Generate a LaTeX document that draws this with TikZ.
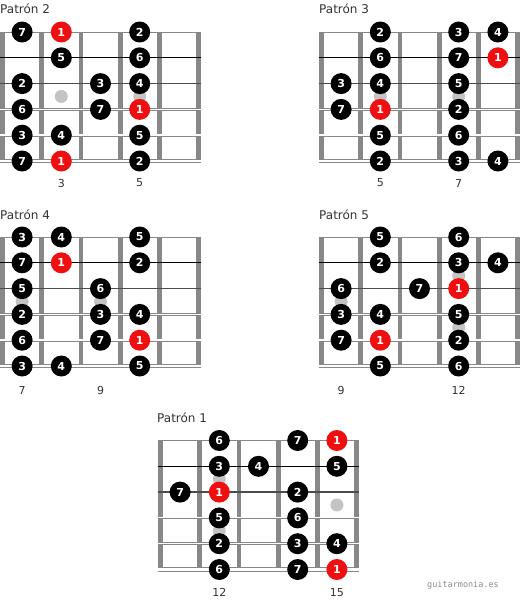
\documentclass[tikz,border=0pt]{standalone}
\usepackage{fontspec}
\setmainfont{DejaVu Sans}
\newfontfamily\wmfont{DejaVu Sans Mono}
\definecolor{nred}{RGB}{238,16,16}
\definecolor{fretc}{RGB}{136,136,136}
\definecolor{inlayc}{RGB}{196,196,196}
\definecolor{txtc}{RGB}{51,51,51}
\tikzset{
  x=1pt, y=-1pt,
  note/.style={circle, minimum size=21pt, inner sep=0pt, text=white,
    font=\fontsize{11}{11}\selectfont\bfseries},
  ttl/.style={anchor=west, inner sep=0pt, text=txtc, font=\fontsize{12}{14}\selectfont},
  fnum/.style={inner sep=0pt, text=txtc, font=\fontsize{11}{13}\selectfont},
  wmark/.style={inner sep=0pt, text=black!45, font=\wmfont\fontsize{8.5}{10}\selectfont},
}
% fretboard drawn inside a shifted scope
\newcommand\fboard{%
  \foreach \k in {0,...,5}
    \fill[fretc] ({\k*39.2-2.4},-0.5) rectangle ({\k*39.2+2.4},131);
  \draw[fretc, line width=1pt] (-2.5,0) -- (198.5,0);
  \draw[black, line width=0.8pt] (-2.5,25.8) -- (198.5,25.8);
  \draw[black!70, line width=1.3pt] (-2.5,51.6) -- (198.5,51.6);
  \draw[fretc, line width=2.6pt] (-2.5,77.4) -- (198.5,77.4);
  \draw[white, line width=1.1pt] (-2.5,77.4) -- (198.5,77.4);
  \draw[fretc, line width=3.2pt] (-2.5,103.2) -- (198.5,103.2);
  \draw[white, line width=1.5pt] (-2.5,103.2) -- (198.5,103.2);
  \draw[fretc, line width=4.2pt] (-2.5,129) -- (198.5,129);
  \draw[white, line width=2.2pt] (-2.5,129) -- (198.5,129);
}
\newcommand\inlay[1]{\fill[inlayc] ({#1*39.2+19.6},64.5) circle (6.5pt);}
\newcommand\dinlay[1]{\fill[inlayc] ({#1*39.2+19.6},38.7) circle (6.5pt);
  \fill[inlayc] ({#1*39.2+19.6},90.3) circle (6.5pt);}
\newcommand\notes[2]{%
  \foreach \r/\c/\l/\f in {#2}
    \node[note, fill=\f] (#1-\r-\c) at ({\c*39.2+19.6},{\r*25.8}) {\l};}
\begin{document}
\begin{tikzpicture}
\useasboundingbox (0,0) rectangle (520,600);
\fill[white] (0,0) rectangle (520,600);

% Patron 2
\begin{scope}[shift={(2.5,32)}]
  \node[ttl] (p2-title) at (-2.5,-23) {Patrón 2};
  \fboard \inlay{1} \inlay{3}
  \notes{p2}{0/0/7/black, 0/1/1/nred, 0/3/2/black,
    1/1/5/black, 1/3/6/black,
    2/0/2/black, 2/2/3/black, 2/3/4/black,
    3/0/6/black, 3/2/7/black, 3/3/1/nred,
    4/0/3/black, 4/1/4/black, 4/3/5/black,
    5/0/7/black, 5/1/1/nred, 5/3/2/black}
  \node[fnum] (p2-fa) at (58.8,151) {3};
  \node[fnum] (p2-fb) at (137.2,151) {5};
\end{scope}

% Patron 3
\begin{scope}[shift={(321.5,32)}]
  \node[ttl] (p3-title) at (-2.5,-23) {Patrón 3};
  \fboard \inlay{1} \inlay{3}
  \notes{p3}{0/1/2/black, 0/3/3/black, 0/4/4/black,
    1/1/6/black, 1/3/7/black, 1/4/1/nred,
    2/0/3/black, 2/1/4/black, 2/3/5/black,
    3/0/7/black, 3/1/1/nred, 3/3/2/black,
    4/1/5/black, 4/3/6/black,
    5/1/2/black, 5/3/3/black, 5/4/4/black}
  \node[fnum] (p3-fa) at (58.8,151) {5};
  \node[fnum] (p3-fb) at (137.2,151) {7};
\end{scope}

% Patron 4
\begin{scope}[shift={(2.5,237)}]
  \node[ttl] (p4-title) at (-2.5,-22) {Patrón 4};
  \fboard \inlay{0} \inlay{2}
  \notes{p4}{0/0/3/black, 0/1/4/black, 0/3/5/black,
    1/0/7/black, 1/1/1/nred, 1/3/2/black,
    2/0/5/black, 2/2/6/black,
    3/0/2/black, 3/2/3/black, 3/3/4/black,
    4/0/6/black, 4/2/7/black, 4/3/1/nred,
    5/0/3/black, 5/1/4/black, 5/3/5/black}
  \node[fnum] (p4-fa) at (19.6,153) {7};
  \node[fnum] (p4-fb) at (98,153) {9};
\end{scope}

% Patron 5
\begin{scope}[shift={(321.5,237)}]
  \node[ttl] (p5-title) at (-2.5,-22) {Patrón 5};
  \fboard \inlay{0} \dinlay{3}
  \notes{p5}{0/1/5/black, 0/3/6/black,
    1/1/2/black, 1/3/3/black, 1/4/4/black,
    2/0/6/black, 2/2/7/black, 2/3/1/nred,
    3/0/3/black, 3/1/4/black, 3/3/5/black,
    4/0/7/black, 4/1/1/nred, 4/3/2/black,
    5/1/5/black, 5/3/6/black}
  \node[fnum] (p5-fa) at (19.6,153) {9};
  \node[fnum] (p5-fb) at (137.2,153) {12};
\end{scope}

% Patron 1
\begin{scope}[shift={(160.5,440.5)}]
  \node[ttl] (p1-title) at (-3.5,-22.5) {Patrón 1};
  \fboard \dinlay{1} \inlay{4}
  \notes{p1}{0/1/6/black, 0/3/7/black, 0/4/1/nred,
    1/1/3/black, 1/2/4/black, 1/4/5/black,
    2/0/7/black, 2/1/1/nred, 2/3/2/black,
    3/1/5/black, 3/3/6/black,
    4/1/2/black, 4/3/3/black, 4/4/4/black,
    5/1/6/black, 5/3/7/black, 5/4/1/nred}
  \node[fnum] (p1-fa) at (58.8,152) {12};
  \node[fnum] (p1-fb) at (176.4,152) {15};
\end{scope}

\node[wmark] (wm) at (463,585) {guitarmonia.es};
\end{tikzpicture}
\end{document}
